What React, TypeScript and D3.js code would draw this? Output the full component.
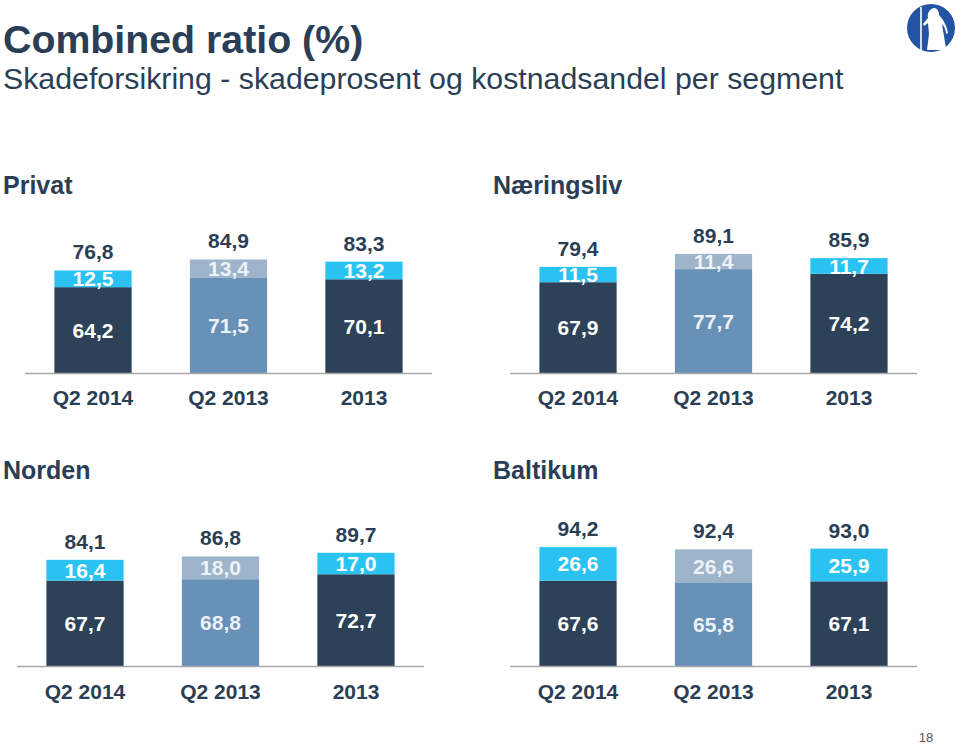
import React from "react";
import * as d3 from "d3";

const categories = ["Q2 2014", "Q2 2013", "2013"];
const segments = ["Privat", "Næringsliv", "Norden", "Baltikum"];
const lossRatio = [
  [64.2, 71.5, 70.1],
  [67.9, 77.7, 74.2],
  [67.7, 68.8, 72.7],
  [67.6, 65.8, 67.1],
];
const costRatio = [
  [12.5, 13.4, 13.2],
  [11.5, 11.4, 11.7],
  [16.4, 18.0, 17.0],
  [26.6, 26.6, 25.9],
];
const combined = [
  [76.8, 84.9, 83.3],
  [79.4, 89.1, 85.9],
  [84.1, 86.8, 89.7],
  [94.2, 92.4, 93.0],
];

const FONT = "'Liberation Sans', Arial, Helvetica, sans-serif";
const NAVY = "#2a3e55";
const DARK = "#2d4258";
const CYAN = "#2ac3f1";
const MID = "#6891b8";
const LIGHT = "#9db4ca";

const panels = [
  { x0: 25, x1: 432, base: 373, ppu: 1.337, titleX: 3, titleY: 194, labelY: 405 },
  { x0: 510, x1: 917, base: 373, ppu: 1.337, titleX: 493, titleY: 194, labelY: 405 },
  { x0: 17, x1: 424, base: 666, ppu: 1.262, titleX: 3, titleY: 479, labelY: 699 },
  { x0: 510, x1: 917, base: 666, ppu: 1.262, titleX: 493, titleY: 479, labelY: 699 },
];

const fmt = (v: number) => v.toFixed(1).replace(".", ",");

function Panel({ idx }: { idx: number }) {
  const p = panels[idx];
  const x = d3
    .scaleBand<string>()
    .domain(categories)
    .range([p.x0, p.x1])
    .paddingInner(0.43)
    .paddingOuter(0.217);
  const y = d3.scaleLinear().domain([0, 100]).range([p.base, p.base - 100 * p.ppu]);
  return (
    <g>
      <text x={p.titleX} y={p.titleY} fontFamily={FONT} fontWeight="bold" fontSize={25} fill={NAVY}>
        {segments[idx]}
      </text>
      {categories.map((c, i) => {
        const loss = lossRatio[idx][i];
        const cost = costRatio[idx][i];
        const bx = x(c)!;
        const bw = x.bandwidth();
        const cx = bx + bw / 2;
        const isMid = i === 1;
        const lowCol = isMid ? MID : DARK;
        const topCol = isMid ? LIGHT : CYAN;
        const txtCol = isMid ? "#eef2f6" : "#ffffff";
        const yLossTop = y(loss);
        const yCostTop = y(loss + cost);
        return (
          <g key={c}>
            <rect x={bx} y={yLossTop} width={bw} height={y(0) - yLossTop} fill={lowCol} />
            <rect x={bx} y={yCostTop} width={bw} height={yLossTop - yCostTop} fill={topCol} />
            <text x={cx} y={(yLossTop + y(0)) / 2} dy="0.36em" textAnchor="middle" fontFamily={FONT} fontWeight="bold" fontSize={21} fill={txtCol}>
              {fmt(loss)}
            </text>
            <text x={cx} y={(yCostTop + yLossTop) / 2} dy="0.36em" textAnchor="middle" fontFamily={FONT} fontWeight="bold" fontSize={21} fill={txtCol}>
              {fmt(cost)}
            </text>
            <text x={cx} y={yCostTop - 11} textAnchor="middle" fontFamily={FONT} fontWeight="bold" fontSize={21} fill={NAVY}>
              {fmt(combined[idx][i])}
            </text>
            <text x={cx} y={p.labelY} textAnchor="middle" fontFamily={FONT} fontWeight="bold" fontSize={21} fill={NAVY}>
              {c}
            </text>
          </g>
        );
      })}
      <line x1={p.x0} x2={p.x1} y1={p.base + 0.5} y2={p.base + 0.5} stroke="#a8a8a8" strokeWidth={1.5} />
    </g>
  );
}

export default function App() {
  return (
    <div style={{ position: "absolute", left: 0, top: 0 }}>
      <style>{"body{margin:0}"}</style>
      <svg width={960} height={744} style={{ display: "block", background: "#fff" }}>
        <text x={3} y={53} fontFamily={FONT} fontWeight="bold" fontSize={39.3} fill={NAVY}>
          Combined ratio (%)
        </text>
        <text x={3} y={89} fontFamily={FONT} fontSize={30.3} fill={NAVY}>
          Skadeforsikring - skadeprosent og kostnadsandel per segment
        </text>
        <g>
          <circle cx={931} cy={28} r={24} fill="#2254a3" />
          <line x1={921} y1={7} x2={921} y2={51} stroke="#fff" strokeWidth={1.6} />
          <path
            d="M934,8 C929,9 927,14 928,18 L923,24 L924,26 L928,23 L929,34 L927,50 L946,50 C945,40 943,32 942,24 C944,26 946,30 946,34 L948,33 C947,26 943,19 939,15 C939,11 937,8 934,8 Z"
            fill="#fff"
          />
        </g>
        {segments.map((s, i) => (
          <Panel key={s} idx={i} />
        ))}
        <text x={926} y={742} textAnchor="middle" fontFamily={FONT} fontSize={13} fill="#555">
          18
        </text>
      </svg>
    </div>
  );
}
